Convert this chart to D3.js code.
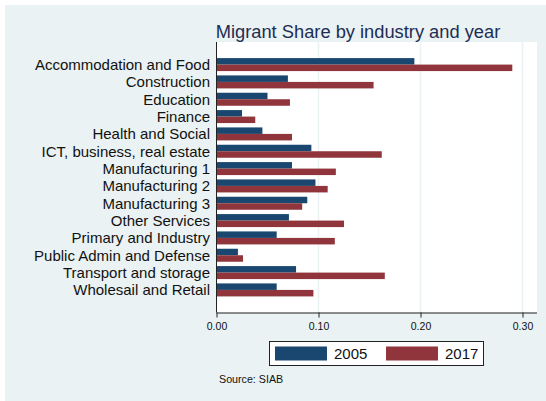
<!DOCTYPE html>
<html>
<head>
<meta charset="utf-8">
<script src="https://cdn.jsdelivr.net/npm/d3@7"></script>
<style>
  body { margin: 0; background: #fff; }
  text { font-family: "Liberation Sans", Arial, sans-serif; }
</style>
</head>
<body>
<svg id="chart" width="546" height="401"></svg>
<script>
const svg = d3.select("#chart");
const width = 546;
const height = 401;

// industries, top to bottom
const industries = [
    "Accommodation and Food", "Construction", "Education", "Finance",
    "Health and Social", "ICT, business, real estate", "Manufacturing 1",
    "Manufacturing 2", "Manufacturing 3", "Other Services",
    "Primary and Industry", "Public Admin and Defense",
    "Transport and storage", "Wholesail and Retail"
];
const years = ["2005", "2017"];
const share2005 = [0.194, 0.070, 0.050, 0.025, 0.045, 0.093, 0.074, 0.097, 0.089, 0.071, 0.059, 0.021, 0.078, 0.059];
const share2017 = [0.290, 0.154, 0.072, 0.038, 0.074, 0.162, 0.117, 0.109, 0.084, 0.125, 0.116, 0.026, 0.165, 0.095];
const xTicks = [0, 0.1, 0.2, 0.3];
const colors = { "2005": "#1a476f", "2017": "#90353b" };

const rows = industries.map((name, i) => ({
    name,
    values: [
        { year: "2005", v: share2005[i] },
        { year: "2017", v: share2017[i] }
    ]
}));

// plot region
const plot = { left: 216.5, right: 537, top: 42, bottom: 312.5 };

// graph background
svg.append("rect")
    .attr("x", 5).attr("y", 5)
    .attr("width", width - 5).attr("height", height - 5)
    .attr("fill", "#eaf2f3");

svg.append("rect")
    .attr("x", plot.left).attr("y", plot.top)
    .attr("width", plot.right - plot.left).attr("height", plot.bottom - plot.top)
    .attr("fill", "#ffffff");

const x = d3.scaleLinear().domain([0, 0.3]).range([plot.left, 522.5]);
const y = d3.scaleBand().domain(industries)
    .range([plot.top + 1, plot.bottom - 1])
    .paddingInner(0.25).paddingOuter(0.87);
const yInner = d3.scaleBand().domain(years).range([0, y.bandwidth()]);

// gridlines
svg.append("g").selectAll("line")
    .data(xTicks.slice(1))
    .enter().append("line")
    .attr("x1", d => x(d)).attr("x2", d => x(d))
    .attr("y1", plot.top).attr("y2", plot.bottom)
    .attr("stroke", "#eaf2f3").attr("stroke-width", 1.5);

// bars
const groups = svg.append("g").selectAll("g")
    .data(rows)
    .enter().append("g")
    .attr("transform", d => `translate(0,${y(d.name)})`);

groups.selectAll("rect")
    .data(d => d.values)
    .enter().append("rect")
    .attr("x", x(0))
    .attr("y", d => yInner(d.year))
    .attr("width", d => x(d.v) - x(0))
    .attr("height", yInner.bandwidth())
    .attr("fill", d => colors[d.year]);

// category labels
svg.append("g").selectAll("text")
    .data(industries)
    .enter().append("text")
    .attr("x", 210)
    .attr("y", d => y(d) + y.bandwidth() / 2)
    .attr("dy", "0.36em")
    .attr("text-anchor", "end")
    .attr("font-size", "15px")
    .attr("fill", "#111")
    .text(d => d);

// left axis line
svg.append("line")
    .attr("x1", plot.left).attr("x2", plot.left)
    .attr("y1", plot.top).attr("y2", plot.bottom)
    .attr("stroke", "#222").attr("stroke-width", 1);

// x axis
const xAxis = svg.append("g")
    .attr("transform", `translate(0,${plot.bottom})`)
    .call(d3.axisBottom(x).tickValues(xTicks).tickFormat(d3.format(".2f")).tickSize(5).tickPadding(5).tickSizeOuter(0));
xAxis.select(".domain").attr("stroke", "#222").attr("d", `M${plot.left},0.5H${plot.right}`);
xAxis.selectAll(".tick line").attr("stroke", "#222");
xAxis.selectAll(".tick text")
    .attr("font-family", "Liberation Sans, Arial, sans-serif")
    .attr("font-size", "10.5px").attr("fill", "#111");

// title
svg.append("text")
    .attr("x", 358).attr("y", 37.5)
    .attr("text-anchor", "middle")
    .attr("font-size", "18.3px")
    .attr("fill", "#1e2d53")
    .text("Migrant Share by industry and year");

// legend
const legend = svg.append("g");
legend.append("rect")
    .attr("x", 269.5).attr("y", 341.5)
    .attr("width", 214).attr("height", 24)
    .attr("fill", "#fff").attr("stroke", "#222").attr("stroke-width", 1);

const lx = d3.scalePoint().domain(years).range([275, 386]);
const items = legend.selectAll("g.item")
    .data(years)
    .enter().append("g").attr("class", "item");
items.append("rect")
    .attr("x", d => lx(d)).attr("y", 346.5)
    .attr("width", 52).attr("height", 14)
    .attr("fill", d => colors[d]);
items.append("text")
    .attr("x", d => lx(d) + 59).attr("y", 358.8)
    .attr("font-size", "15px").attr("fill", "#111")
    .text(d => d);

// source note
svg.append("text")
    .attr("x", 219).attr("y", 382.5)
    .attr("font-size", "10.7px").attr("fill", "#111")
    .text("Source: SIAB");
</script>
</body>
</html>
